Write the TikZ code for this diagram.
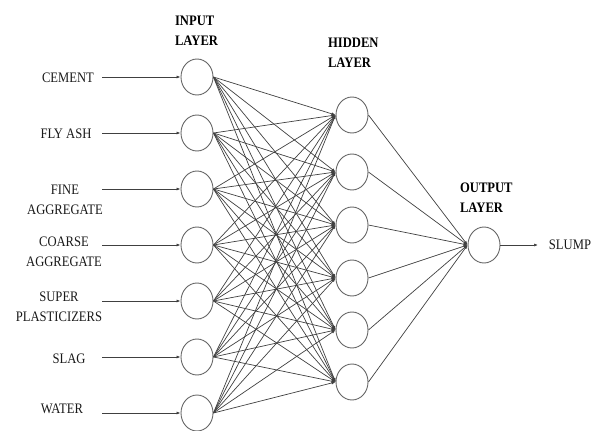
\documentclass[tikz,border=0pt]{standalone}
\usepackage{fontspec}
\setmainfont{Liberation Serif}
\usetikzlibrary{arrows.meta,shapes.geometric}

\begin{document}
\begin{tikzpicture}[x=1pt,y=-1pt,
  neuron/.style={ellipse,draw=black!60,line width=0.9pt,minimum width=32pt,minimum height=36pt,inner sep=0pt},
  lbl/.style={font=\fontsize{14.5}{20}\selectfont,align=center,xscale=0.87,text=black!90},
  title/.style={font=\bfseries\fontsize{14.5}{20}\selectfont,align=left,xscale=0.87,anchor=west,text=black},
  link/.style={draw=black!75,line width=0.7pt,-{Latex[length=4pt,width=3pt]}},
]
\useasboundingbox (0,0) rectangle (597,431);

% layer titles
\node[title] (tin)  at (172,31)  {INPUT\\LAYER};
\node[title] (thid) at (325,53)  {HIDDEN\\LAYER};
\node[title] (tout) at (457,197.5) {OUTPUT\\LAYER};

% input layer
\foreach \i/\y in {1/77,2/133,3/189,4/245,5/301,6/357,7/413}{
  \node[neuron] (i\i) at (197,\y) {};
  \coordinate (s\i) at (102,\y);
  \draw[link] (s\i) -- (i\i.west);
}

% input labels
\node[lbl] (l1) at (68,78)   {CEMENT};
\node[lbl] (l2) at (66,134)  {FLY ASH};
\node[lbl] (l3) at (65,200)  {FINE\\AGGREGATE};
\node[lbl] (l4) at (64,252)  {COARSE\\AGGREGATE};
\node[lbl] (l5) at (59,307)  {SUPER\\PLASTICIZERS};
\node[lbl] (l6) at (69,359)  {SLAG};
\node[lbl] (l7) at (62,409)  {WATER};

% hidden layer
\foreach \j/\y in {1/115,2/172,3/225,4/278,5/330,6/382}{
  \node[neuron] (h\j) at (352,\y) {};
}

% output layer
\node[neuron] (o) at (484,245) {};
\coordinate (oend) at (538,245);
\node[lbl] (slump) at (570,245) {SLUMP};

% full connections
\foreach \i in {1,...,7}{
  \foreach \j in {1,...,6}{
    \draw[link] (i\i.east) -- (h\j.west);
  }
}
\foreach \j in {1,...,6}{
  \draw[link] (h\j.east) -- (o.west);
}
\draw[link] (o.east) -- (oend);
\end{tikzpicture}
\end{document}
